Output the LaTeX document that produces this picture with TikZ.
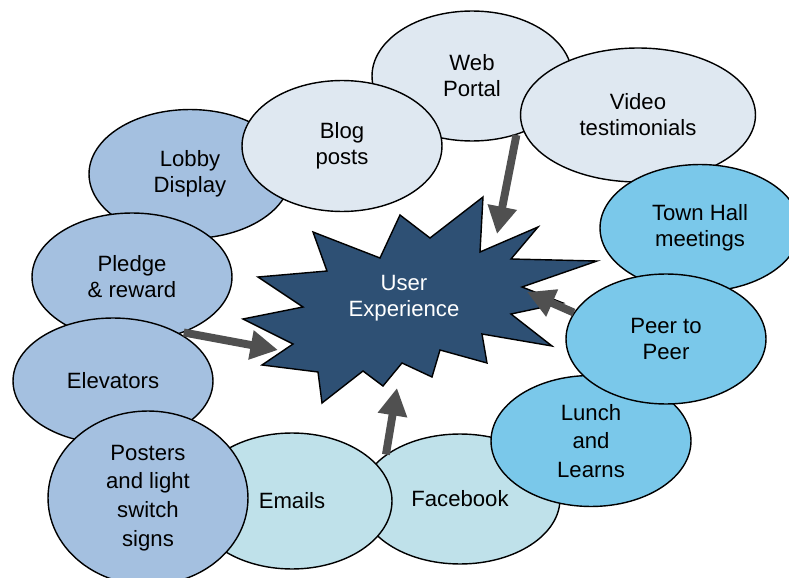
\documentclass[tikz,border=0pt]{standalone}
\usepackage{fontspec}
\setmainfont{Liberation Sans}
\usetikzlibrary{arrows.meta, shapes.geometric}

\definecolor{paleblue}{HTML}{DFE8F1}
\definecolor{greyblue}{HTML}{A4C0E0}
\definecolor{paleaqua}{HTML}{BFE1EA}
\definecolor{skyblue}{HTML}{7AC8EA}
\definecolor{navy}{HTML}{2E5074}
\definecolor{arrowgrey}{HTML}{505050}

\begin{document}
\begin{tikzpicture}[x=0.02cm, y=-0.02cm,
    bubble/.style={ellipse, draw, line width=0.8pt, minimum width=4cm, minimum height=2.6cm,
                   inner sep=0pt, font=\fontsize{12.6}{14.8}\selectfont, align=center},
    burst/.style={draw, line width=0.8pt, fill=navy, line join=miter},
    arrow/.style={-{Triangle[length=0.55cm, width=0.56cm]}, line width=4.5pt, arrowgrey}
  ]
  \useasboundingbox (0,0) rectangle (789,578);
  \clip (0,0) rectangle (789,578);

  \node[bubble, fill=paleblue] (web) at (472,76) {Web\\Portal};
  \node[bubble, fill=paleblue, minimum width=4.7cm, minimum height=2.68cm] (video) at (638,115)
    {Video\\testimonials};
  \node[bubble, fill=greyblue, minimum width=4.04cm, minimum height=2.58cm] (lobby) at (190,174)
    {Lobby\\Display};
  \node[bubble, fill=paleblue, minimum height=2.62cm] (blog) at (342,146) {Blog\\posts};
  \node[bubble, fill=greyblue, minimum height=2.56cm] (pledge) at (132,277) {Pledge\\\& reward};
  \node[bubble, fill=greyblue, minimum height=2.52cm] (elev) at (113,381) {Elevators};
  \node[bubble, fill=paleaqua] (fb) at (460,499) {Facebook};
  \node[bubble, fill=paleaqua, minimum height=2.72cm] (emails) at (292,501) {Emails};
  \node[bubble, fill=greyblue, minimum height=3.48cm] (posters) at (148,498)
    {Posters\\[1.6pt]and light\\[1.6pt]switch\\[1.6pt]signs};
  \node[bubble, fill=skyblue, minimum height=2.54cm] (town) at (700,228) {Town Hall\\meetings};
  \node[bubble, fill=skyblue, minimum height=2.62cm] (lunch) at (591,441)
    {Lunch\\[1.4pt]and\\[1.4pt]Learns};
  \node[bubble, fill=skyblue] (peer) at (666,339) {Peer to\\Peer};

  \draw[burst] (313,232) -- (380,258) -- (400,215) -- (430,238) -- (483,197) -- (480,252)
    -- (538,227) -- (511,259) -- (597,261) -- (522,287) -- (563,303) -- (511,314)
    -- (552,346) -- (482,334) -- (487,363) -- (440,350) -- (432,377) -- (402,363)
    -- (383,386) -- (363,371) -- (322,403) -- (318,372) -- (262,365) -- (293,344)
    -- (243,319) -- (303,307) -- (258,277) -- (327,271) -- cycle;
  \node[font=\fontsize{12.6}{14.8}\selectfont, text=white, align=center] (ux) at (404,298)
    {User\\Experience};

  \coordinate (uxtop) at (497,234);
  \coordinate (uxright) at (527,292);
  \coordinate (uxleft) at (278,350);
  \coordinate (uxbottom) at (397,388);

  \draw[arrow] (web.-53) -- (uxtop);
  \draw[arrow] (peer.164) -- (uxright);
  \draw[arrow] (pledge.-47) -- (uxleft);
  \draw[arrow] (fb.149) -- (uxbottom);
\end{tikzpicture}
\end{document}
